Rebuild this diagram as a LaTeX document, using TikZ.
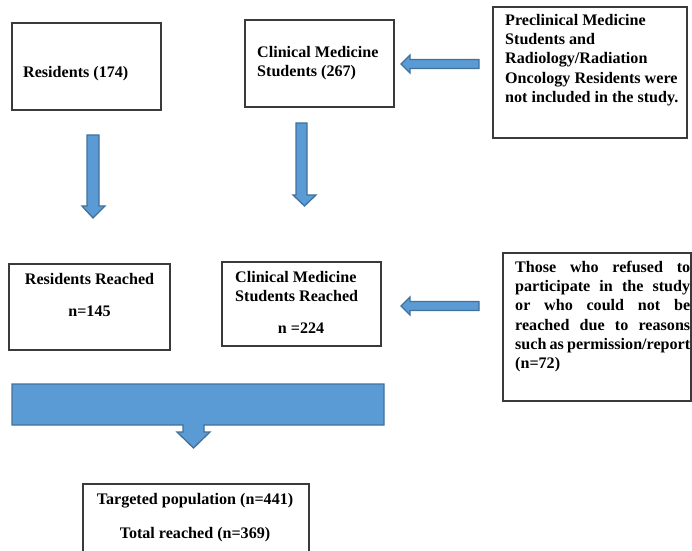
\documentclass[tikz,border=0pt]{standalone}
\usepackage{fontspec}
\setmainfont{Liberation Serif}
\usepackage{tikz}

\definecolor{arrowfill}{HTML}{5B9BD5}
\definecolor{arrowline}{HTML}{41719C}
\definecolor{boxline}{HTML}{3A3A3A}

\begin{document}
\begin{tikzpicture}[x=1bp,y=-1bp,
    box/.style={draw=boxline, line width=1.1bp, inner sep=0pt},
    txt/.style={inner sep=0pt, font=\bfseries\fontsize{16.1bp}{19.3bp}\selectfont, text=black},
    blockarrow/.style={fill=arrowfill, draw=arrowline, line width=1.3bp, line join=miter}]
    \useasboundingbox (0,0) rectangle (692,551);

    % boxes of the first row
    \node [box, minimum width=149bp, minimum height=87bp] (res) at (86.5,66.5) {};
    \node [box, minimum width=149bp, minimum height=87bp] (clin) at (319.5,63.5) {};
    \node [box, minimum width=194bp, minimum height=131bp] (excl) at (590,72.5) {};
    \node [txt, anchor=base west] (resT) at (23,78) {Residents (174)};
    \node [txt, anchor=north west, align=left] (clinT) at (257,43.5) {\strut Clinical Medicine\\Students (267)};
    \node [txt, anchor=north west, align=left] (exclT) at (505,11.5)
        {\strut Preclinical Medicine\\Students and\\Radiology/Radiation\\Oncology Residents were\\not included in the study.};

    % boxes of the second row
    \node [box, minimum width=161bp, minimum height=86bp] (resR) at (89.5,307) {};
    \node [box, minimum width=159bp, minimum height=84bp] (clinR) at (301.5,304) {};
    \node [box, minimum width=188bp, minimum height=148bp] (refu) at (597,327) {};
    \node [txt, anchor=base] (resRT) at (89.5,284) {Residents Reached};
    \node [txt, anchor=base] (resRN) at (89.5,316) {n=145};
    \node [txt, anchor=north west, align=left] (clinRT) at (235,268.5) {\strut Clinical Medicine\\Students Reached};
    \node [txt, anchor=base] (clinRN) at (301,333) {n =224};
    \node [txt, anchor=north west, align=left] (refuT) at (515,258.5)
        {\strut\makebox[175bp][s]{Those who refused to}\\
         \makebox[175bp][s]{participate in the study}\\
         \makebox[175bp][s]{or who could not be}\\
         \makebox[175bp][s]{reached due to reasons}\\
         \makebox[175bp][s]{such as permission/report}\\
         (n=72)};

    % total
    \node [box, minimum width=226bp, minimum height=76bp] (tot) at (196,522) {};
    \node [txt, anchor=base] (totA) at (195,504) {Targeted population (n=441)};
    \node [txt, anchor=base] (totB) at (195,538) {Total reached (n=369)};

    % block arrows
    \filldraw [blockarrow] (87,135) -- (99,135) -- (99,206) -- (105,206) -- (93,218)
        -- (82,206) -- (87,206) -- cycle;
    \filldraw [blockarrow] (296,123) -- (307,123) -- (307,195) -- (316,195) -- (304.5,206)
        -- (293,195) -- (296,195) -- cycle;
    \filldraw [blockarrow] (479,59.5) -- (479,68.5) -- (410,68.5) -- (410,73) -- (401,64)
        -- (410,55) -- (410,59.5) -- cycle;
    \filldraw [blockarrow] (479,301.5) -- (479,310.5) -- (410,310.5) -- (410,315) -- (401,306)
        -- (410,297) -- (410,301.5) -- cycle;
    \filldraw [blockarrow] (12,384) -- (384,384) -- (384,425) -- (204,425) -- (204,432)
        -- (210,432) -- (193.5,448) -- (177,432) -- (183,432) -- (183,425) -- (12,425) -- cycle;
\end{tikzpicture}
\end{document}
